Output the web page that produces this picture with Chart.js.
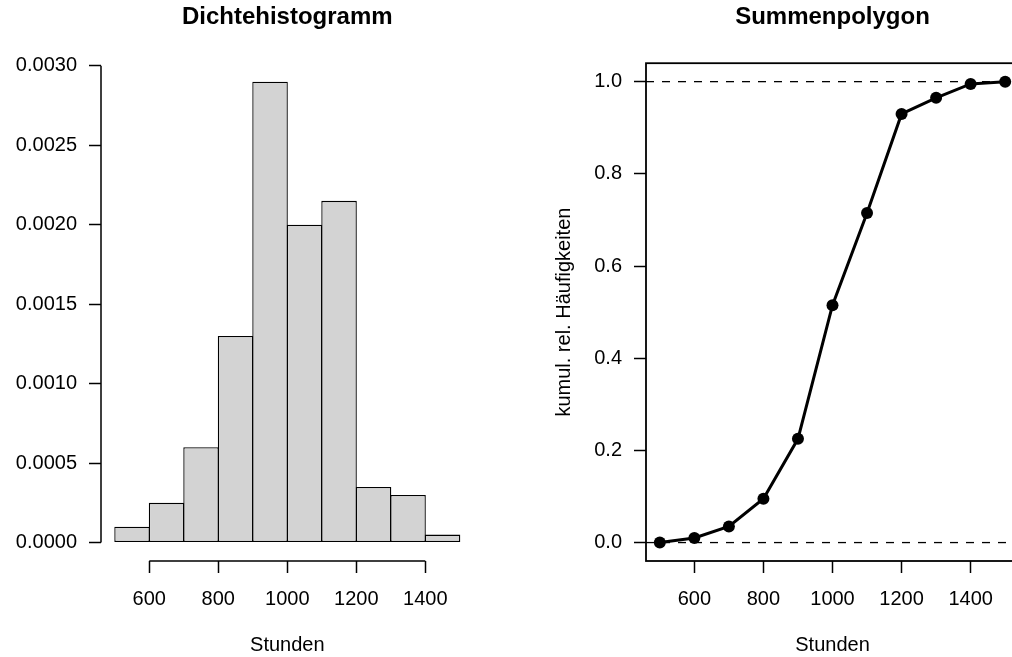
<!DOCTYPE html>
<html>
<head>
<meta charset="utf-8">
<script src="https://cdn.jsdelivr.net/npm/chart.js@4.4.1/dist/chart.umd.min.js"></script>
<style>
  html, body { margin: 0; padding: 0; background: #fff; overflow: hidden; }
  #wrap { position: relative; width: 1012px; height: 657px; overflow: hidden; }
  #hist { position: absolute; left: 0; top: 0; }
  #cum { position: absolute; left: 506px; top: 0; }
</style>
</head>
<body>
<div id="wrap">
  <canvas id="hist" width="506" height="657"></canvas>
  <canvas id="cum" width="520" height="657"></canvas>
</div>
<script>
// Klassengrenzen (Stunden) und Dichten je Klasse
const breaks = [500, 600, 700, 800, 900, 1000, 1100, 1200, 1300, 1400, 1500];
const density = [0.0001, 0.00025, 0.0006, 0.0013, 0.0029, 0.0020, 0.00215, 0.00035, 0.0003, 0.00005];
// kumulierte rel. Häufigkeiten an den Klassengrenzen
const cumRel = [0, 0.01, 0.035, 0.095, 0.225, 0.515, 0.715, 0.93, 0.965, 0.995, 1.0];

const xTicks = [600, 800, 1000, 1200, 1400];
const densTicks = [0, 0.0005, 0.001, 0.0015, 0.002, 0.0025, 0.003];
const cumTicks = [0, 0.2, 0.4, 0.6, 0.8, 1.0];
const refLines = [0, 1];

Chart.defaults.font.family = '"Liberation Sans", Arial, Helvetica, sans-serif';
Chart.defaults.color = '#000';

const tickGrid = () => ({
  display: true, drawOnChartArea: false, drawTicks: true,
  tickLength: 12, tickColor: '#000', tickWidth: 1.5, offset: false
});

const mainTitle = (text) => ({
  display: true, text: text, fullSize: false, color: '#000',
  font: { size: 24, weight: 'bold' },
  padding: { top: 3.2, bottom: 31.2 }
});

const xScale = {
  type: 'linear', min: 460, max: 1540, offset: false,
  grid: tickGrid(), border: { display: false },
  afterBuildTicks: s => { s.ticks = xTicks.map(v => ({ value: v })); },
  ticks: { font: { size: 20 }, padding: 14, maxRotation: 0, autoSkip: false, callback: v => String(v) },
  title: { display: true, text: 'Stunden', font: { size: 20 }, padding: { top: 0, bottom: 0 } },
  afterFit: s => { s.height = 96; }
};

// R-Achsen: Linie nur vom ersten bis zum letzten Tick
const histAxes = {
  id: 'histAxes',
  afterDraw(chart) {
    const { ctx, scales: { x, y } } = chart;
    ctx.save();
    ctx.strokeStyle = '#000';
    ctx.lineWidth = 1.5;
    ctx.beginPath();
    ctx.moveTo(x.getPixelForValue(xTicks[0]), x.top);
    ctx.lineTo(x.getPixelForValue(xTicks[xTicks.length - 1]), x.top);
    ctx.moveTo(y.right, y.getPixelForValue(densTicks[0]));
    ctx.lineTo(y.right, y.getPixelForValue(densTicks[densTicks.length - 1]));
    ctx.stroke();
    ctx.restore();
  }
};

const boxAndRefs = {
  id: 'boxAndRefs',
  beforeDatasetsDraw(chart) {
    const { ctx, chartArea: a, scales: { y } } = chart;
    ctx.save();
    ctx.strokeStyle = '#000';
    ctx.lineWidth = 1.3;
    ctx.setLineDash([8, 8]);
    refLines.forEach(v => {
      const py = y.getPixelForValue(v);
      ctx.beginPath();
      ctx.moveTo(a.left, py);
      ctx.lineTo(a.right, py);
      ctx.stroke();
    });
    ctx.restore();
  },
  afterDraw(chart) {
    const { ctx, chartArea: a } = chart;
    ctx.save();
    ctx.strokeStyle = '#000';
    ctx.lineWidth = 1.8;
    ctx.strokeRect(a.left, a.top, a.right - a.left, a.bottom - a.top);
    ctx.restore();
  }
};

new Chart(document.getElementById('hist'), {
  type: 'bar',
  data: {
    datasets: [{
      data: density.map((d, i) => ({ x: (breaks[i] + breaks[i + 1]) / 2, y: d })),
      backgroundColor: '#d3d3d3',
      borderColor: '#000',
      borderWidth: 1.3,
      borderSkipped: false,
      barPercentage: 1.03,
      categoryPercentage: 1,
      inflateAmount: 0
    }]
  },
  options: {
    responsive: false, animation: false, devicePixelRatio: 1,
    layout: { padding: { left: 0, right: 32.4, top: 0, bottom: 0 } },
    plugins: { legend: { display: false }, tooltip: { enabled: false }, title: mainTitle('Dichtehistogramm') },
    scales: {
      x: xScale,
      y: {
        type: 'linear', min: -0.000116, max: 0.003016,
        grid: tickGrid(), border: { display: false },
        afterBuildTicks: s => { s.ticks = densTicks.map(v => ({ value: v })); },
        ticks: { font: { size: 20 }, padding: 12, callback: v => v.toFixed(4) },
        afterFit: s => { s.width = 101; }
      }
    }
  },
  plugins: [histAxes]
});

new Chart(document.getElementById('cum'), {
  type: 'line',
  data: {
    datasets: [{
      data: breaks.map((b, i) => ({ x: b, y: cumRel[i] })),
      borderColor: '#000',
      borderWidth: 3,
      pointRadius: 6,
      pointBackgroundColor: '#000',
      pointBorderWidth: 0,
      tension: 0,
      clip: false
    }]
  },
  options: {
    responsive: false, animation: false, devicePixelRatio: 1,
    layout: { padding: { left: 0, right: 7, top: 0, bottom: 0 } },
    plugins: { legend: { display: false }, tooltip: { enabled: false }, title: mainTitle('Summenpolygon') },
    scales: {
      x: xScale,
      y: {
        type: 'linear', min: -0.04, max: 1.04,
        grid: tickGrid(), border: { display: false },
        afterBuildTicks: s => { s.ticks = cumTicks.map(v => ({ value: v })); },
        ticks: { font: { size: 20 }, padding: 12, callback: v => v.toFixed(1) },
        title: { display: true, text: 'kumul. rel. Häufigkeiten', font: { size: 20 }, padding: { top: 46, bottom: 0 } },
        afterFit: s => { s.width = 140; }
      }
    }
  },
  plugins: [boxAndRefs]
});
</script>
</body>
</html>
